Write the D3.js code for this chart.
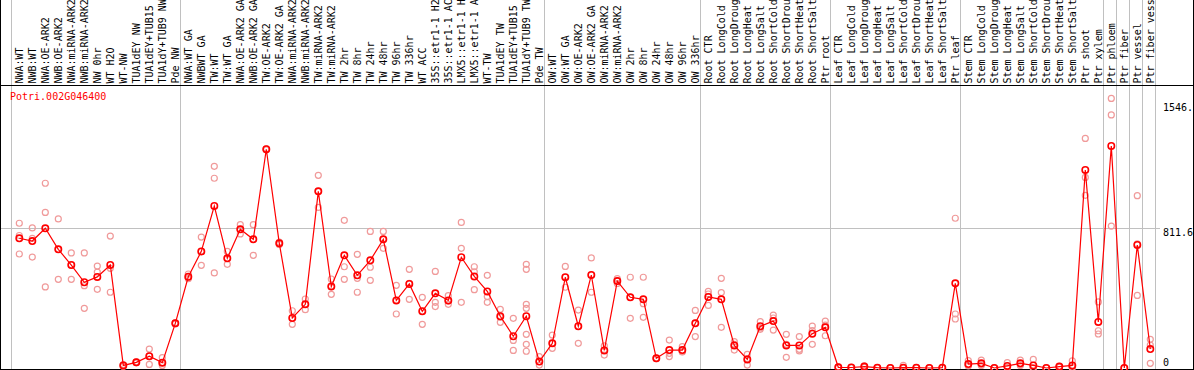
<!DOCTYPE html>
<html><head><meta charset="utf-8">
<script src="https://cdn.jsdelivr.net/npm/d3@7"></script>
<style>body{margin:0;background:#fff}svg{display:block}text{font-family:"DejaVu Sans Mono",monospace;font-size:10px}</style>
</head><body>
<script>
const title = "Potri.002G046400";
const categories = ["NWA:WT","NWB:WT","NWA:OE-ARK2","NWB:OE-ARK2","NWA:miRNA-ARK2","NWB:miRNA-ARK2","NW 0hr","WT H2O","WT-NW","TUA1dEY NW","TUA1dEY+TUB15 NW","TUA1dY+TUB9 NW","Pde NW",
"NWA:WT GA","NWBWT GA","TW:WT","TW:WT GA","NWA:OE-ARK2 GA","NWB:OE-ARK2 GA","TW:OE-ARK2","TW:OE-ARK2 GA","NWA:miRNA-ARK2 GA","NWB:miRNA-ARK2 GA","TW:miRNA-ARK2","TW:miRNA-ARK2 GA","TW 2hr","TW 8hr","TW 24hr","TW 48hr","TW 96hr","TW 336hr","WT ACC","35S::etr1-1 H2O","35S::etr1-1 ACC","LMX5::etr1-1 H2O","LMX5::etr1-1 ACC","WT-TW","TUA1dEY TW","TUA1dEY+TUB15 TW","TUA1dY+TUB9 TW","Pde TW",
"OW:WT","OW:WT GA","OW:OE-ARK2","OW:OE-ARK2 GA","OW:miRNA-ARK2","OW:miRNA-ARK2 GA","OW 2hr","OW 8hr","OW 24hr","OW 48hr","OW 96hr","OW 336hr",
"Root CTR","Root LongCold","Root LongDrought","Root LongHeat","Root LongSalt","Root ShortCold","Root ShortDrought","Root ShortHeat","Root ShortSalt","Ptr root",
"Leaf CTR","Leaf LongCold","Leaf LongDrought","Leaf LongHeat","Leaf LongSalt","Leaf ShortCold","Leaf ShortDrought","Leaf ShortHeat","Leaf ShortSalt","Ptr leaf",
"Stem CTR","Stem LongCold","Stem LongDrought","Stem LongHeat","Stem LongSalt","Stem ShortCold","Stem ShortDrought","Stem ShortHeat","Stem ShortSalt","Ptr shoot","Ptr xylem",
"Ptr phloem","Ptr fiber","Ptr vessel","Ptr fiber vessel"];
const means = [752,736,810,688,597,497,528,597,15,33,68,31,259,
529,676,939,636,804,746,1268,723,290,369,1024,473,653,537,624,746,392,487,329,433,392,642,531,444,300,184,300,37,
143,526,242,539,102,504,410,398,56,104,104,259,
412,398,131,50,242,272,131,131,199,236,
4,3,8,2,0,2,2,0,2,491,
23,27,0,12,27,15,0,8,15,1148,267,
1287,0,713,110];
const replicates = [[839,768,661],[812,751,643],[1071,902,470],[864,514,688],[667,514,597],[667,477,346],[591,556,456],[765,578,439],[15,10,20],[33,30,36],[110,68,21],[60,31,15],[255,262,260],
[545,518,525],[759,676,595],[1169,1100,551],[676,636,601],[831,804,777],[831,746,653],[1268,1265,1271],[730,723,716],[332,290,253],[400,369,338],[1117,931,1024],[516,473,427],[856,587,514],[659,520,439],[792,584,508],[792,746,694],[479,313,392],[572,398,491],[410,253,329],[560,381,356],[419,369,388],[844,694,381],[587,558,454],[537,414,381],[340,265,295],[288,160,102],[601,572,369,346,195,137,97],[66,37,17],
[191,143,114],[589,526,468],[336,242,143],[638,539,439],[128,75,102],[518,504,490],[526,288,410],[526,373,294],[56,54,58],[162,66,85],[124,95,93],[334,182,261],
[444,363,429],[520,437,236],[153,104,137],[79,17,54],[269,224,232],[307,220,290],[195,62,137],[182,108,99],[243,137,217],[272,187,249],
[4,2,6],[3,2,4],[8,12,4],[2,1,3],[0,1,0],[15,2,0],[2,1,3],[0,1,0],[2,3,1],[868,313,284],
[43,12,15],[46,15,20],[0,1,0],[31,5,2],[46,20,15],[50,2,0],[0,1,0],[8,5,10],[41,5,2],[1331,1105,1001],[383,216,197],
[1563,1467,823],[0,1,0],[999,421,719],[166,133,27]];
const tickValues = [0, 811.6, 1546];
const tickLabels = ["0", "811.6", "1546."];
const groupStarts = ["NWA:WT","NWA:WT GA","OW:WT","Root CTR","Leaf CTR","Stem CTR","Ptr phloem","Ptr fiber","Ptr vessel","Ptr fiber vessel"];
const labelMaxChars = 14;

const W = 1194, H = 370;
const svg = d3.select("body").append("svg").attr("width", W).attr("height", H);
const x = d3.scalePoint().domain(categories).range([19.3, 19.3 + 13 * (categories.length - 1)]);
const y = d3.scaleLinear().domain([0, 1623.2]).range([368, 88]);

// separators
const sepX = groupStarts.map(c => x(c) - 8.3).concat([x(categories[categories.length - 1]) + 13 - 8.3]);
svg.selectAll(".sep").data(sepX).enter().append("line")
  .attr("x1", d => Math.round(d) + 0.5).attr("x2", d => Math.round(d) + 0.5)
  .attr("y1", 0).attr("y2", H).attr("stroke", "#c0c0c0").attr("stroke-width", 1);
// horizontal grid at mid tick
svg.append("line").attr("x1", 0).attr("x2", 1160)
  .attr("y1", Math.round(y(tickValues[1])) + 0.5).attr("y2", Math.round(y(tickValues[1])) + 0.5)
  .attr("stroke", "#c0c0c0");

// frame
svg.append("line").attr("x1", 0).attr("x2", W).attr("y1", 85.5).attr("y2", 85.5).attr("stroke", "#000");
svg.append("line").attr("x1", 0.5).attr("x2", 0.5).attr("y1", 0).attr("y2", H).attr("stroke", "#000");
svg.append("line").attr("x1", W - 0.5).attr("x2", W - 0.5).attr("y1", 0).attr("y2", H).attr("stroke", "#000");
svg.append("line").attr("x1", 0).attr("x2", W).attr("y1", 369.5).attr("y2", 369.5).attr("stroke", "#000");

// category labels (shown truncated, as in the reference)
svg.selectAll(".lab").data(categories).enter().append("text")
  .attr("transform", d => `translate(${x(d) + 3.8},83.5) rotate(-90)`)
  .attr("fill", "#000").text(d => d.slice(0, labelMaxChars));

// title
svg.append("text").attr("x", 10).attr("y", 99.5).attr("fill", "#ff0000").text(title);

// right axis labels
svg.selectAll(".tick").data(tickValues).enter().append("text")
  .attr("x", 1163).attr("y", (d, i) => i === 0 ? 366 : (i === 1 ? y(d) + 8 : 110.5))
  .attr("fill", "#000").text((d, i) => tickLabels[i]);

// replicates
const repPts = [];
replicates.forEach((arr, i) => arr.forEach(v => repPts.push({c: categories[i], v})));
svg.selectAll(".rep").data(repPts).enter().append("circle")
  .attr("cx", d => x(d.c)).attr("cy", d => y(d.v)).attr("r", 3)
  .attr("fill", "none").attr("stroke", "#f09a9a").attr("stroke-width", 1.2);

// mean line
const line = d3.line().x((d, i) => x(categories[i])).y(d => y(d));
svg.append("path").datum(means).attr("d", line).attr("fill", "none").attr("stroke", "#ff0000").attr("stroke-width", 1.2);

svg.selectAll(".mean").data(means).enter().append("circle")
  .attr("cx", (d, i) => x(categories[i])).attr("cy", d => y(d)).attr("r", 3.2)
  .attr("fill", "none").attr("stroke", "#ff0000").attr("stroke-width", 1.6);
</script>
</body></html>
